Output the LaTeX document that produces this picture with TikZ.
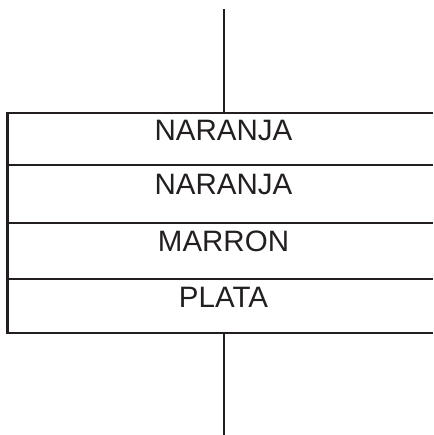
\documentclass[tikz,border=0pt]{standalone}
\usepackage{fontspec}
\setmainfont{Liberation Sans}
\definecolor{ink}{HTML}{231F20}
\begin{document}
\begin{tikzpicture}[x=1pt,y=-1pt,
  wire/.style={draw=ink,line width=2.3pt},
  lbl/.style={anchor=base,inner sep=0pt,text=ink,font=\fontsize{29.5}{30}\selectfont}]
\useasboundingbox (0,0) rectangle (433,435);
% boundaries
\coordinate (t0) at (223.7,9);
\coordinate (b0) at (223.7,435);
\coordinate (l1) at (7.5,113);   \coordinate (r1) at (433,113);   \coordinate (m1) at (223.7,113);
\coordinate (l2) at (7.5,165.3); \coordinate (r2) at (433,165.3);
\coordinate (l3) at (7.5,222.7); \coordinate (r3) at (433,222.7);
\coordinate (l4) at (7.5,279);   \coordinate (r4) at (433,279);
\coordinate (l5) at (7.5,332.7); \coordinate (r5) at (433,332.7); \coordinate (m5) at (223.7,332.7);
\draw[wire] (t0) -- (m1);
\draw[wire] (r1) -- (l1) -- (l5) -- (r5);
\draw[wire] (l2) -- (r2);
\draw[wire] (l3) -- (r3);
\draw[wire] (l4) -- (r4);
\draw[wire] (m5) -- (b0);
% labels
\node[lbl] (n1) at (223.5,141) {NARANJA};
\node[lbl] (n2) at (223.5,195) {NARANJA};
\node[lbl] (n3) at (223.5,251) {MARRON};
\node[lbl] (n4) at (223.5,307.7) {PLATA};
\end{tikzpicture}
\end{document}
